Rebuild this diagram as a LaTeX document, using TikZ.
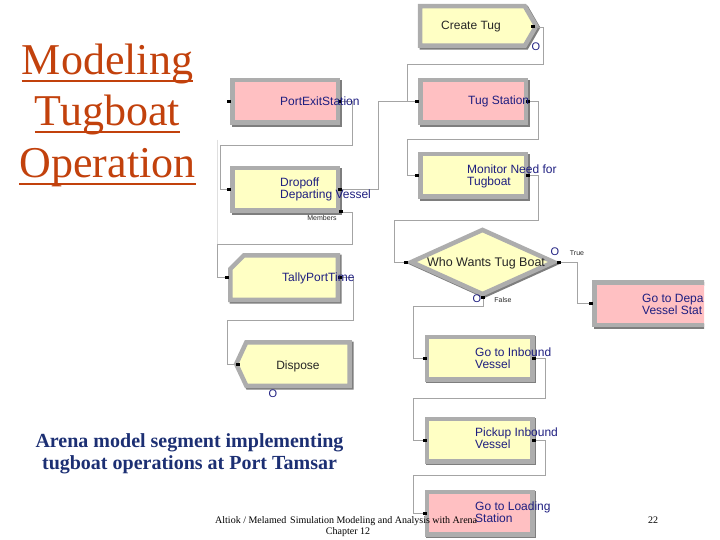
\documentclass[tikz,border=0pt]{standalone}
\usepackage{fontspec}
\setmainfont{Liberation Serif}
\setsansfont{Liberation Sans}
\usetikzlibrary{shapes.geometric, shapes.symbols, positioning}
\definecolor{arYellow}{HTML}{FFFFC4}
\definecolor{arPink}{HTML}{FFC0C2}
\definecolor{arBevel}{HTML}{ADADAD}
\definecolor{arShade}{HTML}{7E7E7E}
\definecolor{arWire}{HTML}{A4A4A4}
\definecolor{arInk}{HTML}{1E1E80}
\definecolor{arDark}{HTML}{262626}
\definecolor{ttlRed}{HTML}{C2410C}
\definecolor{capBlue}{HTML}{1C2F73}

\begin{document}
\begin{tikzpicture}[x=1pt, y=-1pt,
  module/.style={draw=arBevel, line width=4.5pt, inner sep=0pt,
    preaction={draw=arShade, line width=4.5pt, transform canvas={shift={(1.6pt,-1.6pt)}}}},
  modrect/.style={module, rectangle, minimum width=105.5pt, minimum height=42.5pt},
  port/.style={fill=black, inner sep=0pt, minimum width=3.5pt, minimum height=3pt},
  conn/.style={arWire, line width=0.9pt},
  modtext/.style={font=\sffamily\fontsize{12}{12}\selectfont, text=arInk, align=left, anchor=west, inner sep=0pt},
  ctrtext/.style={font=\sffamily\fontsize{12}{12}\selectfont, text=arDark, inner sep=0pt},
  smalltag/.style={font=\sffamily\fontsize{7}{8}\selectfont, text=arDark, inner sep=0pt},
  ozero/.style={font=\sffamily\fontsize{11}{12}\selectfont, text=arInk, inner sep=0pt},
  ttl/.style={font=\fontsize{44}{50}\selectfont, text=ttlRed, inner sep=0pt, anchor=base},
  ttlline/.style={ttlRed, line width=2pt},
  captext/.style={font=\bfseries\fontsize{20}{22}\selectfont, text=capBlue, inner sep=0pt, anchor=base},
  foottext/.style={font=\fontsize{10}{11}\selectfont, inner sep=0pt, anchor=base west}]
  \useasboundingbox (0,0) rectangle (720,540);

  % title
  \node[ttl] (ttlA) at (107.5,75) {Modeling};
  \node[ttl] (ttlB) at (107.5,126) {Tugboat};
  \node[ttl] (ttlC) at (107.5,178) {Operation};
  \foreach \t in {ttlA,ttlB,ttlC}
    \draw[ttlline] ([yshift=-6pt]\t.base west) -- ([yshift=-6pt]\t.base east);

  % edge of the model window
  \draw[gray!25, line width=0.6pt] (217,140) -- (217,244);

  % modules
  \node[module, signal, signal to=east, signal pointer angle=120, fill=arYellow,
        minimum width=116pt, minimum height=39.5pt] (create) at (472.5,26) {};
  \node[modrect, fill=arPink] (portexit) at (285,101.5) {};
  \node[modrect, fill=arPink] (tugst) at (473,101.5) {};
  \node[modrect, fill=arYellow] (monitor) at (473,175.5) {};
  \node[modrect, fill=arYellow] (dropoff) at (285,189.5) {};
  \node[module, diamond, fill=arYellow, minimum width=144pt, minimum height=66pt] (decide) at (482.5,262) {};
  % record module with cut corner
  \draw[module, fill=arYellow] (244,255.25) -- (337.75,255.25) -- (337.75,299.75)
    -- (230.25,299.75) -- (230.25,269) -- cycle;
  \node[module, signal, signal to=west, signal pointer angle=130, fill=arYellow,
        minimum width=113.5pt, minimum height=43.5pt] (dispose) at (298,364) {};
  \node[modrect, fill=arYellow] (goinb) at (479.5,358) {};
  \node[modrect, fill=arYellow] (pickup) at (479.5,440) {};
  \node[modrect, fill=arPink] (goload) at (479.5,513) {};
  \begin{scope}
    \clip (0,0) rectangle (704,540);
    \node[module, rectangle, fill=arPink, minimum width=118.5pt, minimum height=42.5pt] (godep) at (653.5,303.5) {};
  \end{scope}

  % ports
  \foreach \n/\x/\y in {createOut/533/27, portexitIn/229/101.5, portexitOut/340/101.5,
      tugstIn/417/101.5, tugstOut/528/101.5, monitorIn/417/175.5, monitorOut/528/175.5,
      dropoffIn/229/189.5, dropoffOut/340/189.5, membersOut/341/212,
      decideIn/406/262, decideTrue/559/262, decideFalse/483/297.5, godepIn/591/303.5,
      tallyIn/227/277.5, tallyOut/340/277.5, disposeIn/238/364,
      goinbIn/425/358, goinbOut/534/358, pickupIn/425/440, pickupOut/534/440, goloadIn/425/513}
    \node[port] (\n) at (\x,\y) {};

  % connections
  \draw[conn] (createOut) -- (543,27) |- (407,64) |- (tugstIn);
  \draw[conn] (dropoffOut) -| (378,101.5) -- (tugstIn);
  \draw[conn] (tugstOut) -- (538,101.5) |- (407,139) |- (monitorIn);
  \draw[conn] (monitorOut) -- (538,175.5) |- (394,220) |- (decideIn);
  \draw[conn] (decideTrue) -| (577,303.5) -- (godepIn);
  \draw[conn] (decideFalse) -- (483,306) -| (413,358) -- (goinbIn);
  \draw[conn] (goinbOut) -- (545,358) |- (413,398) |- (pickupIn);
  \draw[conn] (pickupOut) -- (545,440) |- (413,475) |- (goloadIn);
  \draw[conn] (portexitOut) -- (352,101.5) |- (220,145) |- (dropoffIn);
  \draw[conn] (membersOut) -- (352,212) |- (217,244) |- (tallyIn);
  \draw[conn] (tallyOut) -- (353,277.5) |- (227,320) |- (disposeIn);

  % module texts
  \node[ctrtext] (createT) at (471,27) {Create Tug};
  \node[modtext] (portexitT) at (280,101.5) {PortExitStation};
  \node[modtext] (tugstT) at (468,101.5) {Tug Station};
  \node[modtext] (monitorT) at (467,176) {Monitor Need for\\ Tugboat};
  \node[modtext] (dropoffT) at (280,189) {Dropoff\\Departing Vessel};
  \node[ctrtext, font=\sffamily\fontsize{12.5}{13}\selectfont] (decideT) at (486,263) {Who Wants Tug Boat};
  \node[modtext] (godepT) at (642,304) {Go to Depa\\Vessel Stat};
  \node[modtext] (tallyT) at (282,278) {TallyPortTime};
  \node[ctrtext] (disposeT) at (298,366) {Dispose};
  \node[modtext] (goinbT) at (475,358) {Go to Inbound\\Vessel};
  \node[modtext] (pickupT) at (475,438) {Pickup Inbound\\Vessel};
  \node[modtext] (goloadT) at (475,512) {Go to Loading\\Station};

  % counters and tags
  \node[ozero] (createO) at (536,47) {O};
  \node[ozero] (trueO) at (555,252) {O};
  \node[smalltag] (trueL) at (577,253) {True};
  \node[ozero] (falseO) at (477,299) {O};
  \node[smalltag] (falseL) at (503,300) {False};
  \node[ozero] (disposeO) at (273,394) {O};
  \node[smalltag] (membersL) at (322,218) {Members};

  % caption
  \node[captext] (capA) at (189.5,447) {Arena model segment implementing};
  \node[captext] (capB) at (189.5,469) {tugboat operations at Port Tamsar};

  % footer
  \node[foottext] (footA) at (215,523) {Altiok / Melamed};
  \node[foottext] (footB) at (290,523) {Simulation Modeling and Analysis with Arena};
  \node[foottext, anchor=base] (footC) at (348,534) {Chapter 12};
  \node[foottext, anchor=base] (pageno) at (653,523) {22};
\end{tikzpicture}
\end{document}
